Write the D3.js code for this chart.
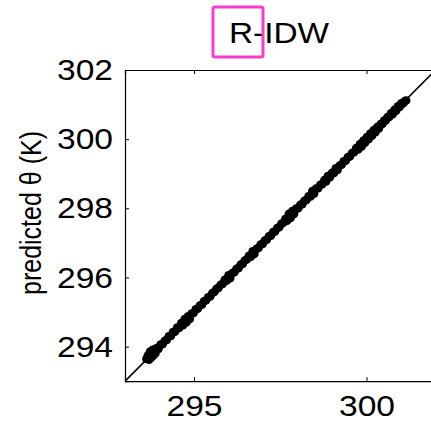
<!DOCTYPE html>
<html>
<head>
<meta charset="utf-8">
<script src="https://cdn.jsdelivr.net/npm/d3@7"></script>
<style>
body { margin: 0; background: #fff; }
text { font-family: "Liberation Sans", Arial, sans-serif; fill: #000; }
</style>
</head>
<body>
<div id="chart"></div>
<script>
var title = "R-IDW";
var yLabel = "predicted \u03b8 (K)";
var xTicks = [295, 300];
var yTicks = [294, 296, 298, 300, 302];
var domainX = [293, 302];
var domainY = [293, 302];

// observed vs predicted potential temperature (K)
var observed = [293.62, 293.66, 293.70, 293.73, 293.76, 293.79, 293.82, 293.85, 293.88, 293.92,
	293.74, 293.84, 293.70,
	293.97, 294.03, 294.09, 294.15, 294.21, 294.27, 294.33, 294.39, 294.45, 294.51,
	294.57, 294.63, 294.68, 294.73, 294.78, 294.83, 294.88, 294.93, 294.99, 295.05,
	295.11, 295.17, 295.23, 295.29, 295.35, 295.41, 295.47, 295.53, 295.59, 295.65,
	295.71, 295.77, 295.83, 295.89, 295.95, 296.00, 296.05, 296.11, 296.17, 296.23,
	296.29, 296.35, 296.41, 296.47, 296.53, 296.59, 296.65, 296.70, 296.75, 296.81,
	296.87, 296.93, 296.99, 297.05, 297.11, 297.17, 297.23, 297.29, 297.35, 297.41,
	297.47, 297.53, 297.59, 297.65, 297.70, 297.75, 297.80, 297.85, 297.90, 297.96,
	298.02, 298.08, 298.14, 298.20, 298.26, 298.32, 298.38, 298.43, 298.48, 298.54,
	298.60, 298.66, 298.72, 298.78, 298.83, 298.88, 298.94, 299.00, 299.06, 299.11,
	299.16, 299.22, 299.28, 299.34, 299.40, 299.46, 299.52, 299.58, 299.64, 299.70,
	299.76, 299.81, 299.86, 299.91, 299.96, 300.01, 300.06, 300.11, 300.16, 300.21,
	300.26, 300.31, 300.36, 300.41, 300.46, 300.51, 300.56, 300.61, 300.66, 300.71,
	300.76, 300.81, 300.86, 300.91, 300.96, 301.01, 301.06, 301.11, 301.15];
var predicted = [293.64, 293.74, 293.62, 293.86, 293.68, 293.90, 293.74, 293.92, 293.80, 293.96,
	293.80, 293.84, 293.78,
	293.93, 294.06, 294.07, 294.17, 294.19, 294.30, 294.31, 294.42, 294.43, 294.55,
	294.54, 294.68, 294.62, 294.80, 294.70, 294.88, 294.80, 294.96, 294.97, 295.08,
	295.10, 295.19, 295.21, 295.31, 295.34, 295.43, 295.45, 295.55, 295.58, 295.67,
	295.70, 295.79, 295.81, 295.93, 295.91, 296.06, 295.98, 296.13, 296.15, 296.25,
	296.27, 296.37, 296.39, 296.49, 296.52, 296.63, 296.60, 296.76, 296.68, 296.83,
	296.85, 296.95, 296.97, 297.07, 297.09, 297.19, 297.21, 297.31, 297.33, 297.43,
	297.45, 297.55, 297.58, 297.70, 297.64, 297.84, 297.72, 297.92, 297.84, 297.99,
	298.00, 298.10, 298.12, 298.22, 298.24, 298.35, 298.34, 298.50, 298.42, 298.57,
	298.58, 298.68, 298.70, 298.82, 298.78, 298.93, 298.90, 299.03, 299.02, 299.16,
	299.11, 299.24, 299.26, 299.36, 299.38, 299.48, 299.50, 299.60, 299.62, 299.74,
	299.70, 299.86, 299.79, 299.96, 299.90, 300.06, 300.00, 300.16, 300.10, 300.26,
	300.20, 300.35, 300.31, 300.44, 300.44, 300.54, 300.54, 300.64, 300.64, 300.75,
	300.72, 300.85, 300.82, 300.95, 300.93, 301.04, 301.03, 301.10, 301.12];

var W = 431, H = 429;
var margin = {top: 70, left: 125};
var plotW = 310.5, plotH = 311.2;

var svg = d3.select("#chart").append("svg")
	.attr("width", W)
	.attr("height", H);

var x = d3.scaleLinear().domain(domainX).range([0, plotW]);
var y = d3.scaleLinear().domain(domainY).range([plotH, 0]);

var g = svg.append("g")
	.attr("transform", "translate(" + margin.left + "," + margin.top + ")");

g.append("clipPath").attr("id", "clip")
	.append("rect").attr("width", plotW).attr("height", plotH);

// 1:1 line
g.append("line")
	.attr("clip-path", "url(#clip)")
	.attr("x1", x(domainX[0])).attr("y1", y(domainY[0]))
	.attr("x2", x(domainX[1])).attr("y2", y(domainY[1]))
	.attr("stroke", "#000")
	.attr("stroke-width", 1.6);

g.append("g").attr("clip-path", "url(#clip)")
	.selectAll("circle")
	.data(observed)
	.enter()
	.append("circle")
	.attr("cx", function(d) { return x(d); })
	.attr("cy", function(d, i) { return y(predicted[i]); })
	.attr("r", 4.3)
	.attr("fill", "#000");

/** axes, ticks inside like matlab **/
var xAxis = d3.axisBottom(x).tickValues(xTicks).tickSize(-4).tickPadding(14).tickFormat(d3.format("d"));
var yAxis = d3.axisLeft(y).tickValues(yTicks).tickSize(-4).tickPadding(12).tickFormat(d3.format("d"));

var gx = g.append("g")
	.attr("transform", "translate(0," + plotH + ")")
	.call(xAxis);
var gy = g.append("g").call(yAxis);

g.append("g").call(d3.axisTop(x).tickValues(xTicks).tickSize(-4).tickFormat(""));
g.append("g").attr("transform", "translate(" + plotW + ",0)")
	.call(d3.axisRight(y).tickValues(yTicks).tickSize(-4).tickFormat(""));

g.selectAll(".domain").attr("stroke", "#000").attr("stroke-width", 1.2);
g.selectAll(".tick line").attr("stroke", "#000");

gx.selectAll("text").style("font-size", "30px").attr("dy", "0.71em");
gy.selectAll("text").style("font-size", "30px");

// the original text is a bit wider than liberation
gx.selectAll(".tick text").each(function() {
	var t = d3.select(this);
	var ty = +t.attr("y");
	t.attr("transform", "translate(0," + ty + ") scale(1.12,1) translate(0," + (-ty) + ")");
});
gy.selectAll(".tick text").each(function() {
	var t = d3.select(this);
	var tx = +t.attr("x");
	t.attr("transform", "translate(" + tx + ",0) scale(1.12,1) translate(" + (-tx) + ",0)");
});

svg.append("text")
	.attr("x", 279)
	.attr("y", 43)
	.attr("text-anchor", "middle")
	.attr("transform", "translate(279,0) scale(1.15,1) translate(-279,0)")
	.style("font-size", "29px")
	.text(title);

// highlight box round "R-"
svg.append("rect")
	.attr("x", 213)
	.attr("y", 7)
	.attr("width", 50)
	.attr("height", 50)
	.attr("rx", 2)
	.attr("fill", "none")
	.attr("stroke", "#f53dce")
	.attr("stroke-width", 3);

svg.append("text")
	.attr("transform", "translate(41,213) rotate(-90) scale(1,1.2)")
	.attr("text-anchor", "middle")
	.style("font-size", "25px")
	.text(yLabel);
</script>
</body>
</html>
